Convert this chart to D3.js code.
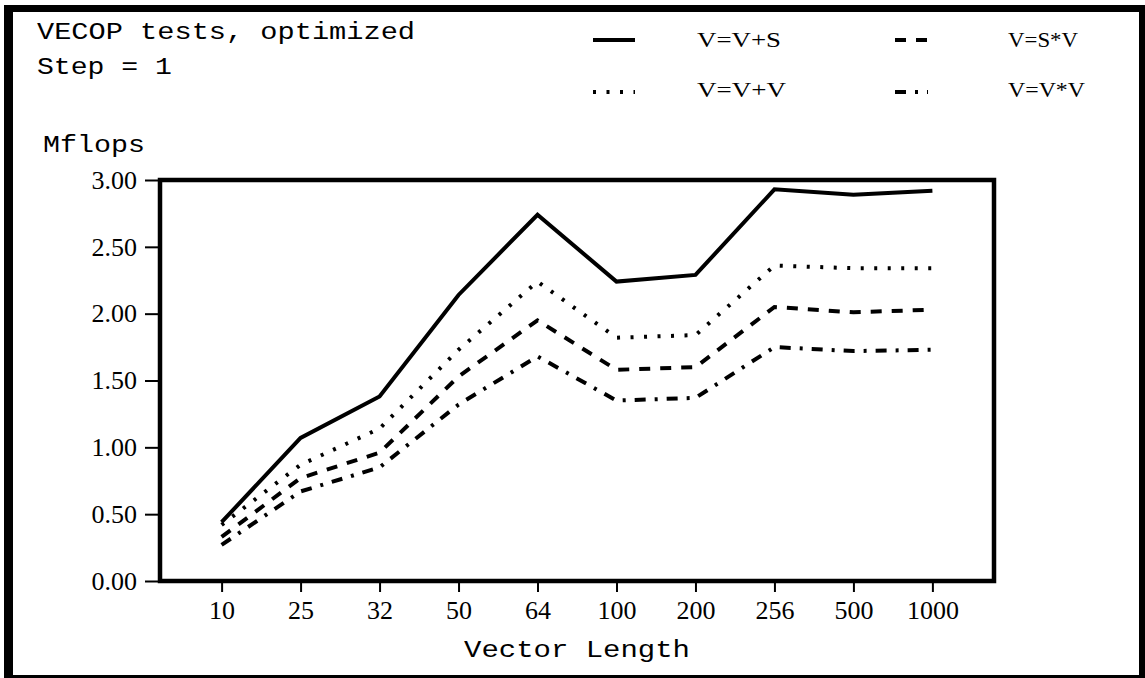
<!DOCTYPE html>
<html>
<head>
<meta charset="utf-8">
<script src="https://cdn.jsdelivr.net/npm/d3@7"></script>
<style>
  body { margin: 0; background: #fff; }
  svg { display: block; }
</style>
</head>
<body>
<svg id="chart" width="1145" height="678"></svg>
<script>
const lengths = ['10', '25', '32', '50', '64', '100', '200', '256', '500', '1000']
const vvs  = [0.44, 1.07, 1.38, 2.14, 2.74, 2.24, 2.29, 2.93, 2.89, 2.92]
const vvv  = [0.42, 0.87, 1.14, 1.73, 2.24, 1.82, 1.84, 2.36, 2.34, 2.34]
const vsv  = [0.33, 0.77, 0.96, 1.53, 1.95, 1.58, 1.60, 2.05, 2.01, 2.03]
const vxv  = [0.27, 0.67, 0.85, 1.32, 1.68, 1.35, 1.37, 1.75, 1.72, 1.73]
const yTicks = [0, 0.5, 1, 1.5, 2, 2.5, 3]

const series = [
  { name: 'V=V+S', values: vvs, dash: null },
  { name: 'V=S*V', values: vsv, dash: '11,10' },
  { name: 'V=V+V', values: vvv, dash: '3,10.5' },
  { name: 'V=V*V', values: vxv, dash: '11,9,3,9' }
]

const mono = '"Liberation Mono", "Courier New", monospace'
const serif = '"Liberation Serif", "Times New Roman", serif'

const svg = d3.select('#chart')

// outer frame
svg.append('rect').attr('x', 4).attr('y', 5).attr('width', 1141).attr('height', 673).attr('fill', '#000')
svg.append('rect').attr('x', 13).attr('y', 12).attr('width', 1126).attr('height', 663).attr('fill', '#fff')

const pLeft = 160, pRight = 994, pTop = 180, pBottom = 581

const x = d3.scalePoint().domain(lengths).range([pLeft, pRight]).padding(0.78)
const y = d3.scaleLinear().domain([0, 3]).range([pBottom, pTop])

// y axis
const yAxis = svg.append('g')
  .attr('transform', `translate(${pLeft - 2},0)`)
  .call(d3.axisLeft(y).tickValues(yTicks).tickFormat(d3.format('.2f')).tickSize(13).tickPadding(8))
yAxis.select('.domain').remove()
yAxis.selectAll('line').attr('stroke', '#000').attr('stroke-width', 2)
yAxis.selectAll('text').attr('font-family', serif).attr('font-size', 26).attr('fill', '#000')

// x axis
const xAxis = svg.append('g')
  .attr('transform', `translate(0,${pBottom + 2})`)
  .call(d3.axisBottom(x).tickSize(9))
xAxis.select('.domain').remove()
xAxis.selectAll('line').attr('stroke', '#000').attr('stroke-width', 2)
xAxis.selectAll('text').attr('font-family', serif).attr('font-size', 26).attr('fill', '#000')
  .attr('y', 36).attr('dy', 0)

// plot box
svg.append('rect')
  .attr('x', pLeft).attr('y', pTop)
  .attr('width', pRight - pLeft).attr('height', pBottom - pTop)
  .attr('fill', 'none').attr('stroke', '#000').attr('stroke-width', 4.5)

const line = d3.line().x((d, i) => x(lengths[i])).y(d => y(d))

svg.append('g').selectAll('path')
  .data(series)
  .enter().append('path')
  .attr('d', d => line(d.values))
  .attr('fill', 'none')
  .attr('stroke', '#000')
  .attr('stroke-width', 4)
  .attr('stroke-dasharray', d => d.dash)

// titles
const texts = [
  { t: 'VECOP tests, optimized', x: 37, y: 39, len: 378 },
  { t: 'Step = 1', x: 37, y: 74, len: 135 },
  { t: 'Mflops', x: 43, y: 152, len: 102 }
]
svg.append('g').selectAll('text')
  .data(texts)
  .enter().append('text')
  .attr('x', d => d.x).attr('y', d => d.y)
  .attr('font-family', mono).attr('font-size', 23)
  .attr('textLength', d => d.len).attr('lengthAdjust', 'spacingAndGlyphs')
  .text(d => d.t)

svg.append('text')
  .attr('x', (pLeft + pRight) / 2).attr('y', 657)
  .attr('text-anchor', 'middle')
  .attr('font-family', mono).attr('font-size', 23)
  .attr('textLength', 226).attr('lengthAdjust', 'spacingAndGlyphs')
  .text('Vector Length')

// legend: 2 columns x 2 rows
const legendPos = [
  { lx: 593, ly: 40, tx: 697, ty: 47, len: 84 },
  { lx: 895, ly: 40, tx: 1008, ty: 47, len: 70 },
  { lx: 593, ly: 92, tx: 697, ty: 97, len: 89 },
  { lx: 895, ly: 92, tx: 1008, ty: 97, len: 77 }
]
const lg = svg.append('g').selectAll('g')
  .data(series)
  .enter().append('g')
lg.append('line')
  .attr('x1', (d, i) => legendPos[i].lx)
  .attr('x2', (d, i) => legendPos[i].lx + (i % 2 ? 33 : 42))
  .attr('y1', (d, i) => legendPos[i].ly)
  .attr('y2', (d, i) => legendPos[i].ly)
  .attr('stroke', '#000').attr('stroke-width', 4)
  .attr('stroke-dasharray', d => d.dash)
lg.append('text')
  .attr('x', (d, i) => legendPos[i].tx)
  .attr('y', (d, i) => legendPos[i].ty)
  .attr('font-family', serif).attr('font-size', 22)
  .attr('textLength', (d, i) => legendPos[i].len).attr('lengthAdjust', 'spacingAndGlyphs')
  .text(d => d.name)
</script>
</body>
</html>
